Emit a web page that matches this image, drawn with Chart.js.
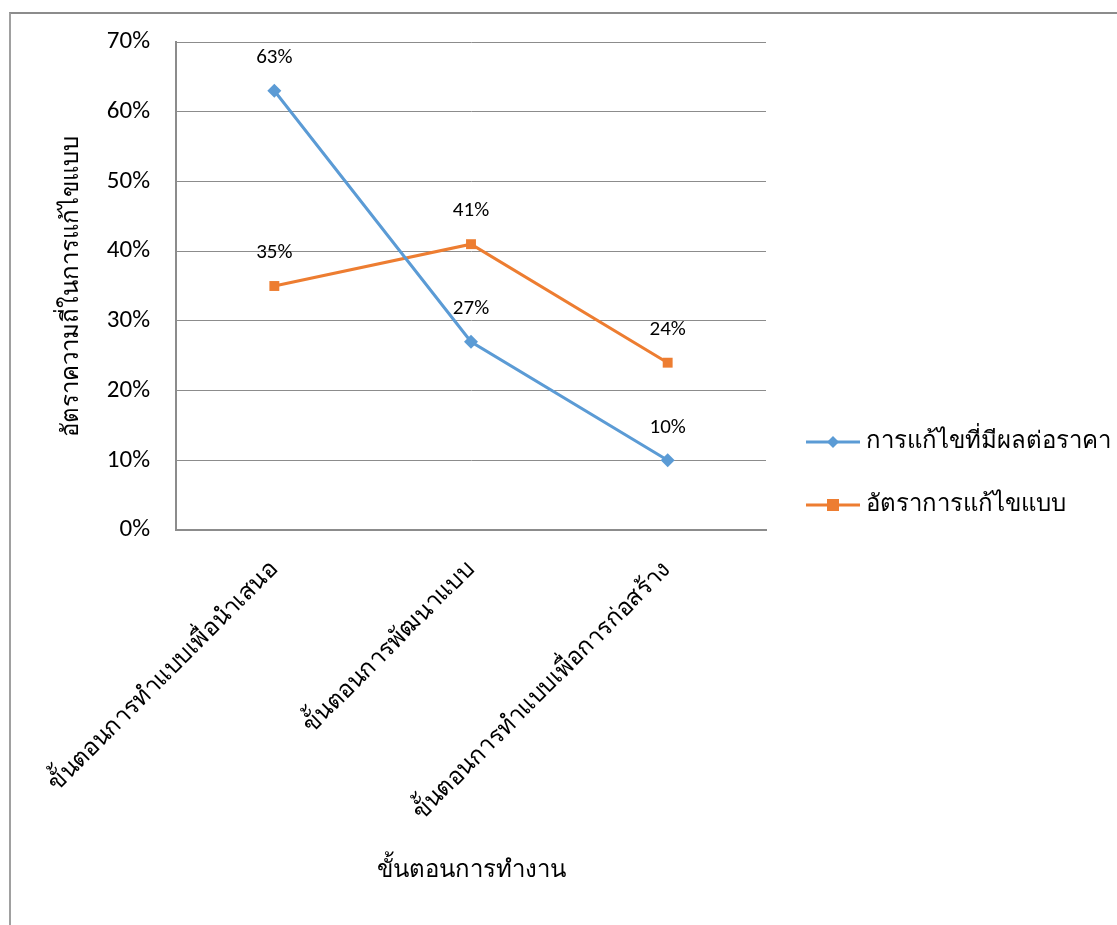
<!DOCTYPE html>
<html>
<head>
<meta charset="utf-8">
<script src="https://cdn.jsdelivr.net/npm/chart.js@4/dist/chart.umd.min.js"></script>
<style>
  html, body { margin: 0; padding: 0; background: #fff; }
  #wrap { position: relative; width: 1117px; height: 925px; overflow: hidden; }
  #frame {
    position: absolute; left: 9px; top: 12px; width: 1200px; height: 1000px;
    border-top: 2px solid #8c8c8c; border-left: 2px solid #a0a0a0;
  }
  canvas { position: absolute; left: 0; top: 0; }
</style>
</head>
<body>
<div id="wrap">
  <div id="frame"></div>
  <canvas id="lineChart" width="1117" height="925"></canvas>
</div>
<script>
const categories = [
  "ขั้นตอนการทำแบบเพื่อนำเสนอ",
  "ขั้นตอนการพัฒนาแบบ",
  "ขั้นตอนการทำแบบเพื่อการก่อสร้าง",
];
const priceImpact = [63, 27, 10];
const revisionRate = [35, 41, 24];
const seriesNames = ["การแก้ไขที่มีผลต่อราคา", "อัตราการแก้ไขแบบ"];
const yTicks = [0, 10, 20, 30, 40, 50, 60, 70];

const FONT = "Carlito, Lato, 'Open Sans', 'Noto Sans', sans-serif";
const BLUE = "#5B9BD5";
const ORANGE = "#ED7D31";

// value labels above each point
const valueLabels = {
  id: "valueLabels",
  afterDatasetsDraw(chart) {
    const ctx = chart.ctx;
    ctx.save();
    ctx.font = "21px " + FONT;
    ctx.fillStyle = "#000";
    ctx.textAlign = "center";
    ctx.textBaseline = "middle";
    chart.data.datasets.forEach((ds, i) => {
      chart.getDatasetMeta(i).data.forEach((pt, j) => {
        ctx.fillText(ds.data[j] + "%", pt.x, pt.y - 33);
      });
    });
    ctx.restore();
  },
};

// legend drawn like the office one: line with marker, centred on the whole chart
const sideLegend = {
  id: "sideLegend",
  afterDraw(chart) {
    const ctx = chart.ctx;
    const x0 = 806;
    const rows = [442, 505];
    ctx.save();
    chart.data.datasets.forEach((ds, i) => {
      const y = rows[i];
      ctx.strokeStyle = ds.borderColor;
      ctx.lineWidth = 3;
      ctx.beginPath();
      ctx.moveTo(x0, y);
      ctx.lineTo(x0 + 54, y);
      ctx.stroke();
      ctx.fillStyle = ds.backgroundColor;
      const cx = x0 + 27;
      if (ds.pointStyle === "rectRot") {
        ctx.beginPath();
        ctx.moveTo(cx, y - 6);
        ctx.lineTo(cx + 6, y);
        ctx.lineTo(cx, y + 6);
        ctx.lineTo(cx - 6, y);
        ctx.closePath();
        ctx.fill();
      } else {
        ctx.fillRect(cx - 6, y - 6, 12, 12);
      }
      ctx.fillStyle = "#000";
      ctx.font = "24px " + FONT;
      ctx.textAlign = "left";
      ctx.textBaseline = "middle";
      ctx.fillText(ds.label, x0 + 60, y);
    });
    ctx.restore();
  },
};

new Chart(document.getElementById("lineChart"), {
  type: "line",
  data: {
    labels: categories,
    datasets: [
      {
        label: seriesNames[0],
        data: priceImpact,
        borderColor: BLUE,
        backgroundColor: BLUE,
        borderWidth: 3,
        pointStyle: "rectRot",
        pointRadius: 7,
        pointBorderWidth: 0,
        tension: 0,
      },
      {
        label: seriesNames[1],
        data: revisionRate,
        borderColor: ORANGE,
        backgroundColor: ORANGE,
        borderWidth: 3,
        pointStyle: "rect",
        pointRadius: 7,
        pointBorderWidth: 0,
        tension: 0,
      },
    ],
  },
  options: {
    responsive: false,
    animation: false,
    layout: { padding: { left: 54, right: 351, top: 42, bottom: 36 } },
    plugins: {
      legend: { display: false },
      tooltip: { enabled: false },
    },
    scales: {
      x: {
        offset: true,
        grid: { display: false },
        border: { display: true, color: "#8c8c8c", width: 2 },
        ticks: {
          color: "#000",
          font: { family: FONT, size: 24 },
          minRotation: 45,
          maxRotation: 45,
          padding: 18,
        },
        title: {
          display: true,
          text: "ขั้นตอนการทำงาน",
          color: "#000",
          font: { family: FONT, size: 24 },
        },
        afterFit(scale) {
          scale.height = 925 - 530 - 36;
        },
      },
      y: {
        min: 0,
        max: 70,
        afterBuildTicks(scale) {
          scale.ticks = yTicks.map((v) => ({ value: v }));
        },
        grid: { color: "#8c8c8c", lineWidth: 1, drawTicks: false },
        border: { display: true, color: "#8c8c8c", width: 2 },
        ticks: {
          color: "#000",
          font: { family: FONT, size: 25 },
          padding: 26,
          callback: (v) => v + "%",
        },
        title: {
          display: true,
          text: "อัตราความถี่ในการแก้ไขแบบ",
          color: "#000",
          font: { family: FONT, size: 24 },
        },
        afterFit(scale) {
          scale.width = 176 - 54;
        },
      },
    },
  },
  plugins: [valueLabels, sideLegend],
});
</script>
</body>
</html>
